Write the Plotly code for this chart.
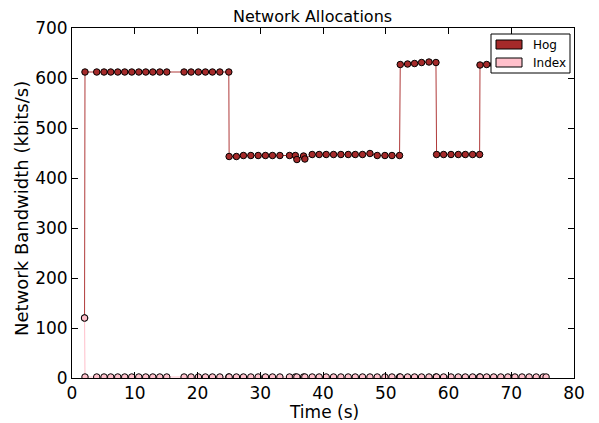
import plotly.graph_objects as go

# Time samples (s)
hog_time = [2.0, 2.07, 3.94, 5.10, 6.17, 7.29, 8.40, 9.52, 10.64, 11.75, 12.87, 13.99, 15.10,
            17.86, 18.98, 20.14, 21.26, 22.38, 23.56, 24.99,
            25.04, 26.20, 27.32, 28.50, 29.67, 30.83, 31.95, 33.13, 34.66, 35.60, 35.84, 36.90, 37.11,
            38.28, 39.39, 40.51, 41.68, 42.85, 44.02, 45.14, 46.30, 47.48, 48.64, 49.87, 50.99, 52.20,
            52.31, 53.48, 54.59, 55.71, 56.89, 58.00,
            58.10, 59.22, 60.40, 61.56, 62.68, 63.84, 64.96,
            65.02, 66.08, 67.20, 68.33, 69.46, 70.59, 71.72, 72.85, 73.98, 75.10, 75.55]
hog_bw = [120, 612, 612, 612, 612, 612, 612, 612, 612, 612, 612, 612, 612,
          612, 612, 612, 612, 612, 612, 612,
          443, 443, 445, 445, 445, 445, 445, 445, 445, 445, 437, 444, 438,
          447, 447, 447, 447, 447, 447, 447, 447, 449, 445, 445, 445, 445,
          627, 628, 629, 631, 632, 631,
          447, 447, 447, 447, 447, 447, 447,
          626, 627, 627, 627, 627, 627, 627, 627, 627, 627, 627]

index_time = hog_time
index_bw = [120] + [2] * (len(hog_time) - 1)

x_ticks = [0, 10, 20, 30, 40, 50, 60, 70, 80]
y_ticks = [0, 100, 200, 300, 400, 500, 600, 700]

FONT = "DejaVu Sans"
W, H = 599, 423
L, R, T, B = 72, 574, 28, 378  # plot area in pixels
PW, PH = R - L, B - T


def px(x):
    return (x - L) / PW


def py(y):
    return (B - y) / PH


fig = go.Figure()
fig.add_trace(go.Scatter(
    x=hog_time, y=hog_bw, mode="lines+markers", name="Hog",
    line=dict(color="#b03a3a", width=1),
    marker=dict(size=6.5, color="#a52a2a", line=dict(color="black", width=1)),
    showlegend=False))
fig.add_trace(go.Scatter(
    x=index_time, y=index_bw, mode="lines+markers", name="Index",
    line=dict(color="#ffc0cb", width=1),
    marker=dict(size=6.5, color="#ffc0cb", line=dict(color="black", width=1)),
    showlegend=False))

# manual legend (matplotlib style patches)
shapes = [
    dict(type="rect", xref="paper", yref="paper", layer="above",
         x0=px(491), x1=px(570), y0=py(73), y1=py(34),
         fillcolor="white", line=dict(color="black", width=1)),
    dict(type="rect", xref="paper", yref="paper", layer="above",
         x0=px(496), x1=px(522), y0=py(49), y1=py(40),
         fillcolor="#a52a2a", line=dict(color="black", width=1)),
    dict(type="rect", xref="paper", yref="paper", layer="above",
         x0=px(496), x1=px(522), y0=py(67), y1=py(58),
         fillcolor="#ffc0cb", line=dict(color="black", width=1)),
]
annotations = [
    dict(text="Hog", xref="paper", yref="paper", x=px(531), y=py(45),
         xanchor="left", yanchor="middle", showarrow=False, font=dict(family=FONT, size=12, color="black")),
    dict(text="Index", xref="paper", yref="paper", x=px(531), y=py(63),
         xanchor="left", yanchor="middle", showarrow=False, font=dict(family=FONT, size=12, color="black")),
    dict(text="Time (s)", xref="paper", yref="paper", x=px(324), y=py(412),
         xanchor="center", yanchor="middle", showarrow=False, font=dict(family=FONT, size=17, color="black")),
    dict(text="Network Bandwidth (kbits/s)", xref="paper", yref="paper", x=px(21), y=py(209),
         xanchor="center", yanchor="middle", textangle=-90, showarrow=False,
         font=dict(family=FONT, size=18, color="black")),
    dict(text="Network Allocations", xref="paper", yref="paper", x=px(312), y=py(16),
         xanchor="center", yanchor="middle", showarrow=False, font=dict(family=FONT, size=16, color="black")),
]

axis_common = dict(showline=True, linecolor="black", linewidth=1, mirror="ticks",
                   ticks="inside", ticklen=6, tickcolor="black", showgrid=False, zeroline=False,
                   automargin=False, tickfont=dict(family=FONT, size=17, color="black"))

fig.update_layout(
    width=W, height=H,
    margin=dict(l=L, r=W - R, t=T, b=H - B, autoexpand=False),
    paper_bgcolor="white", plot_bgcolor="white",
    xaxis=dict(range=[0, 80], tickvals=x_ticks, ticktext=[str(v) for v in x_ticks], **axis_common),
    yaxis=dict(range=[0, 700], tickvals=y_ticks, ticktext=[str(v) for v in y_ticks], **axis_common),
    shapes=shapes, annotations=annotations,
    showlegend=False,
)

fig.write_html("out.html", config={"displayModeBar": False},
               post_script="document.body.style.margin='0';document.body.style.overflow='hidden';")
